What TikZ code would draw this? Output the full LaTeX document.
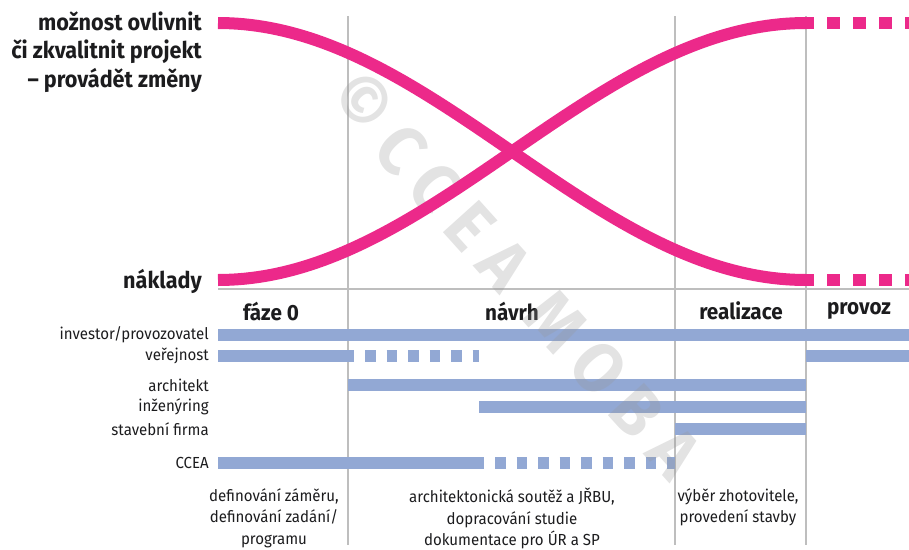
\documentclass[tikz,border=0pt]{standalone}
\usepackage{fontspec}
\setmainfont{Fira Sans}[FakeStretch=0.94]
\definecolor{curvepink}{RGB}{236,41,138}
\definecolor{barblue}{RGB}{146,168,212}
\definecolor{gridgray}{RGB}{190,190,190}
\definecolor{textdark}{RGB}{28,28,30}

\begin{document}
\begin{tikzpicture}[x=1pt,y=-1pt,
    grid/.style={draw=gridgray,line width=1.8pt},
    curve/.style={draw=curvepink,line width=12pt},
    curvedash/.style={curve,dash pattern=on 12.5pt off 13.5pt},
    bar/.style={draw=barblue,line width=11.5pt},
    bardash/.style={bar,dash pattern=on 10.5pt off 11pt},
    role/.style={anchor=east,inner sep=0pt,text=textdark,font=\fontsize{16}{18}\selectfont},
    axis/.style={anchor=east,align=right,inner sep=0pt,text=textdark,font=\fontsize{23}{28.5}\selectfont\bfseries},
    phase/.style={inner sep=0pt,text=textdark,font=\fontsize{22}{24}\selectfont\bfseries},
    note/.style={anchor=north,align=center,inner sep=0pt,text=textdark,font=\fontsize{16}{21.5}\selectfont},
    wmark/.style={text=black!40,text opacity=0.28,inner sep=0pt,font=\fontsize{70}{70}\selectfont\bfseries\addfontfeature{LetterSpace=22}}]
    \useasboundingbox (0,0) rectangle (909,549);

    \coordinate (x0) at (218,0);
    \coordinate (x1) at (348,0);
    \coordinate (x2) at (479,0);
    \coordinate (x3) at (675,0);
    \coordinate (x4) at (806,0);
    \coordinate (x5) at (909,0);
    \coordinate (top) at (0,16);
    \coordinate (bot) at (0,545);
    \coordinate (hl) at (0,289);

    \draw[grid] (x1 |- top) -- (x1 |- bot);
    \draw[grid] (x3 |- top) -- (x3 |- bot);
    \draw[grid] (x4 |- top) -- (x4 |- bot);
    \draw[grid] (x0 |- hl) -- (x5 |- hl);

    \node[axis] (chg) at (202,52) {možnost ovlivnit\\či zkvalitnit projekt\\– provádět změny};
    \node[axis] (cost) at (202,281) {náklady};

    \node[phase] (ph0) at (271,311) {fáze 0};
    \node[phase] (ph1) at (512,311) {návrh};
    \node[phase] (ph2) at (741,311) {realizace};
    \node[phase] (ph3) at (859,311) {provoz};

    \node[role] (inv) at (209,335) {investor/provozovatel};
    \node[role] (pub) at (209,356) {veřejnost};
    \node[role] (arch) at (209,385) {architekt};
    \node[role] (eng) at (209,407) {inženýring};
    \node[role] (firm) at (209,429) {stavební firma};
    \node[role] (ccea) at (209,463) {CCEA};

    \coordinate (p1) at (354,0);
    \coordinate (p2) at (365,0);
    \coordinate (c1) at (484,0);
    \coordinate (c2) at (495,0);
    \coordinate (d0) at (801,0);
    \coordinate (hi) at (0,23);
    \coordinate (lo) at (0,280);

    \draw[bar] (x0 |- inv) -- (x5 |- inv);
    \draw[bar] (x0 |- pub) -- (p1 |- pub);
    \draw[bardash] (p2 |- pub) -- (x2 |- pub);
    \draw[bar] (x4 |- pub) -- (x5 |- pub);
    \draw[bar] (x1 |- arch) -- (x4 |- arch);
    \draw[bar] (x2 |- eng) -- (x4 |- eng);
    \draw[bar] (x3 |- firm) -- (x4 |- firm);
    \draw[bar] (x0 |- ccea) -- (c1 |- ccea);
    \draw[bardash] (c2 |- ccea) -- (x3 |- ccea);

    \node[wmark,rotate=-48] (wm) at (516,274) {©CCEA MOBA};

    \draw[curve] plot[domain=0:180,samples=90] ({218+3.26667*\x},{23+128.5*(1-cos(\x))});
    \draw[curve] plot[domain=0:180,samples=90] ({218+3.26667*\x},{280-128.5*(1-cos(\x))});
    \draw[curvedash] (d0 |- hi) -- (x5 |- hi);
    \draw[curvedash] (d0 |- lo) -- (x5 |- lo);

    \node[note] (n0) at (274,488) {definování záměru,\\definování zadání/\\programu};
    \node[note] (n1) at (512,488) {architektonická soutěž a JŘBU,\\dopracování studie\\dokumentace pro ÚR a SP};
    \node[note] (n2) at (738,488) {výběr zhotovitele,\\provedení stavby};
\end{tikzpicture}
\end{document}
